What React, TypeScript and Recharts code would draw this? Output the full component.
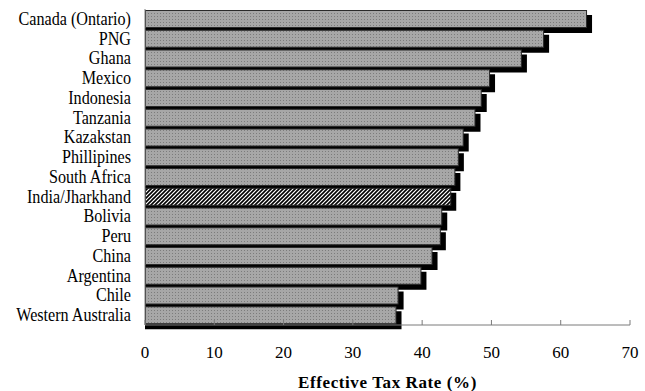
import React from 'react';
import { BarChart, Bar, XAxis, YAxis } from 'recharts';

// Effective tax rate by mining jurisdiction
const categories = [
  'Canada (Ontario)',
  'PNG',
  'Ghana',
  'Mexico',
  'Indonesia',
  'Tanzania',
  'Kazakstan',
  'Phillipines',
  'South Africa',
  'India/Jharkhand',
  'Bolivia',
  'Peru',
  'China',
  'Argentina',
  'Chile',
  'Western Australia',
];

const taxRates = [63.8, 57.6, 54.4, 49.8, 48.6, 47.7, 46.0, 45.3, 44.8, 44.2, 42.9, 42.7, 41.5, 39.9, 36.6, 36.3];

const xTicks = [0, 10, 20, 30, 40, 50, 60, 70];

const highlighted = 'India/Jharkhand';

const data = categories.map((name, i) => ({ name, rate: taxRates[i] }));

const SERIF = '"Liberation Serif", "Times New Roman", serif';

// Bar with a solid drop shadow below and to the right
const ShadowBar = (props: any) => {
  const { x, y, width, height, payload } = props;
  const fill = payload.name === highlighted ? 'url(#hatch)' : 'url(#dots)';
  return (
    <g>
      <rect x={x} y={y + 5} width={width + 5} height={height} fill="#000" />
      <rect x={x + 0.5} y={y + 0.5} width={width - 1} height={height - 1} fill={fill} stroke="#2a2a2a" strokeWidth={1} />
    </g>
  );
};

const CategoryTick = (props: any) => {
  const { x, y, payload } = props;
  return (
    <g transform={`translate(${x},${y}) scale(0.85,1)`}>
      <text x={0} y={0} dy={6} textAnchor="end" fontFamily={SERIF} fontSize={19} fill="#000">
        {payload.value}
      </text>
    </g>
  );
};

const ValueTick = (props: any) => {
  const { x, y, payload } = props;
  return (
    <g>
      <line x1={x} y1={y} x2={x} y2={y - 5} stroke="#7a7a7a" strokeWidth={1} />
      <text x={x} y={y + 33} textAnchor="middle" fontFamily={SERIF} fontSize={17} fill="#000">
        {payload.value}
      </text>
    </g>
  );
};

export default function App() {
  return (
    <div style={{ position: 'absolute', left: 0, top: 0, width: 645, height: 391, background: '#fff' }}>
      <BarChart
        width={645}
        height={391}
        data={data}
        layout="vertical"
        margin={{ top: 9, right: 15, bottom: 0, left: 0 }}
        barSize={18}
      >
        <defs>
          <pattern id="dots" width={3} height={3} patternUnits="userSpaceOnUse">
            <rect width={3} height={3} fill="#a7a7a7" />
            <rect x={1} y={1} width={1} height={1} fill="#7c7c7c" />
          </pattern>
          <pattern id="hatch" width={4} height={4} patternUnits="userSpaceOnUse">
            <rect width={4} height={4} fill="#ffffff" />
            <path d="M-1,1 l2,-2 M0,4 l4,-4 M3,5 l2,-2" stroke="#000" strokeWidth={1.6} />
          </pattern>
        </defs>
        <XAxis
          type="number"
          domain={[0, 70]}
          ticks={xTicks}
          interval={0}
          axisLine={{ stroke: '#7a7a7a', strokeWidth: 1 }}
          tickLine={false}
          tickSize={0}
          tickMargin={0}
          height={66}
          tick={<ValueTick />}
          label={{
            value: 'Effective Tax Rate (%)',
            position: 'insideBottom',
            offset: 3,
            style: { fontFamily: SERIF, fontSize: 17, fontWeight: 700, letterSpacing: 0.6, fill: '#000' },
          }}
        />
        <YAxis
          type="category"
          dataKey="name"
          width={145}
          interval={0}
          axisLine={{ stroke: '#7a7a7a', strokeWidth: 1 }}
          tickLine={false}
          tickSize={0}
          tickMargin={14}
          tick={<CategoryTick />}
        />
        <Bar dataKey="rate" isAnimationActive={false} shape={<ShadowBar />} />
      </BarChart>
    </div>
  );
}
